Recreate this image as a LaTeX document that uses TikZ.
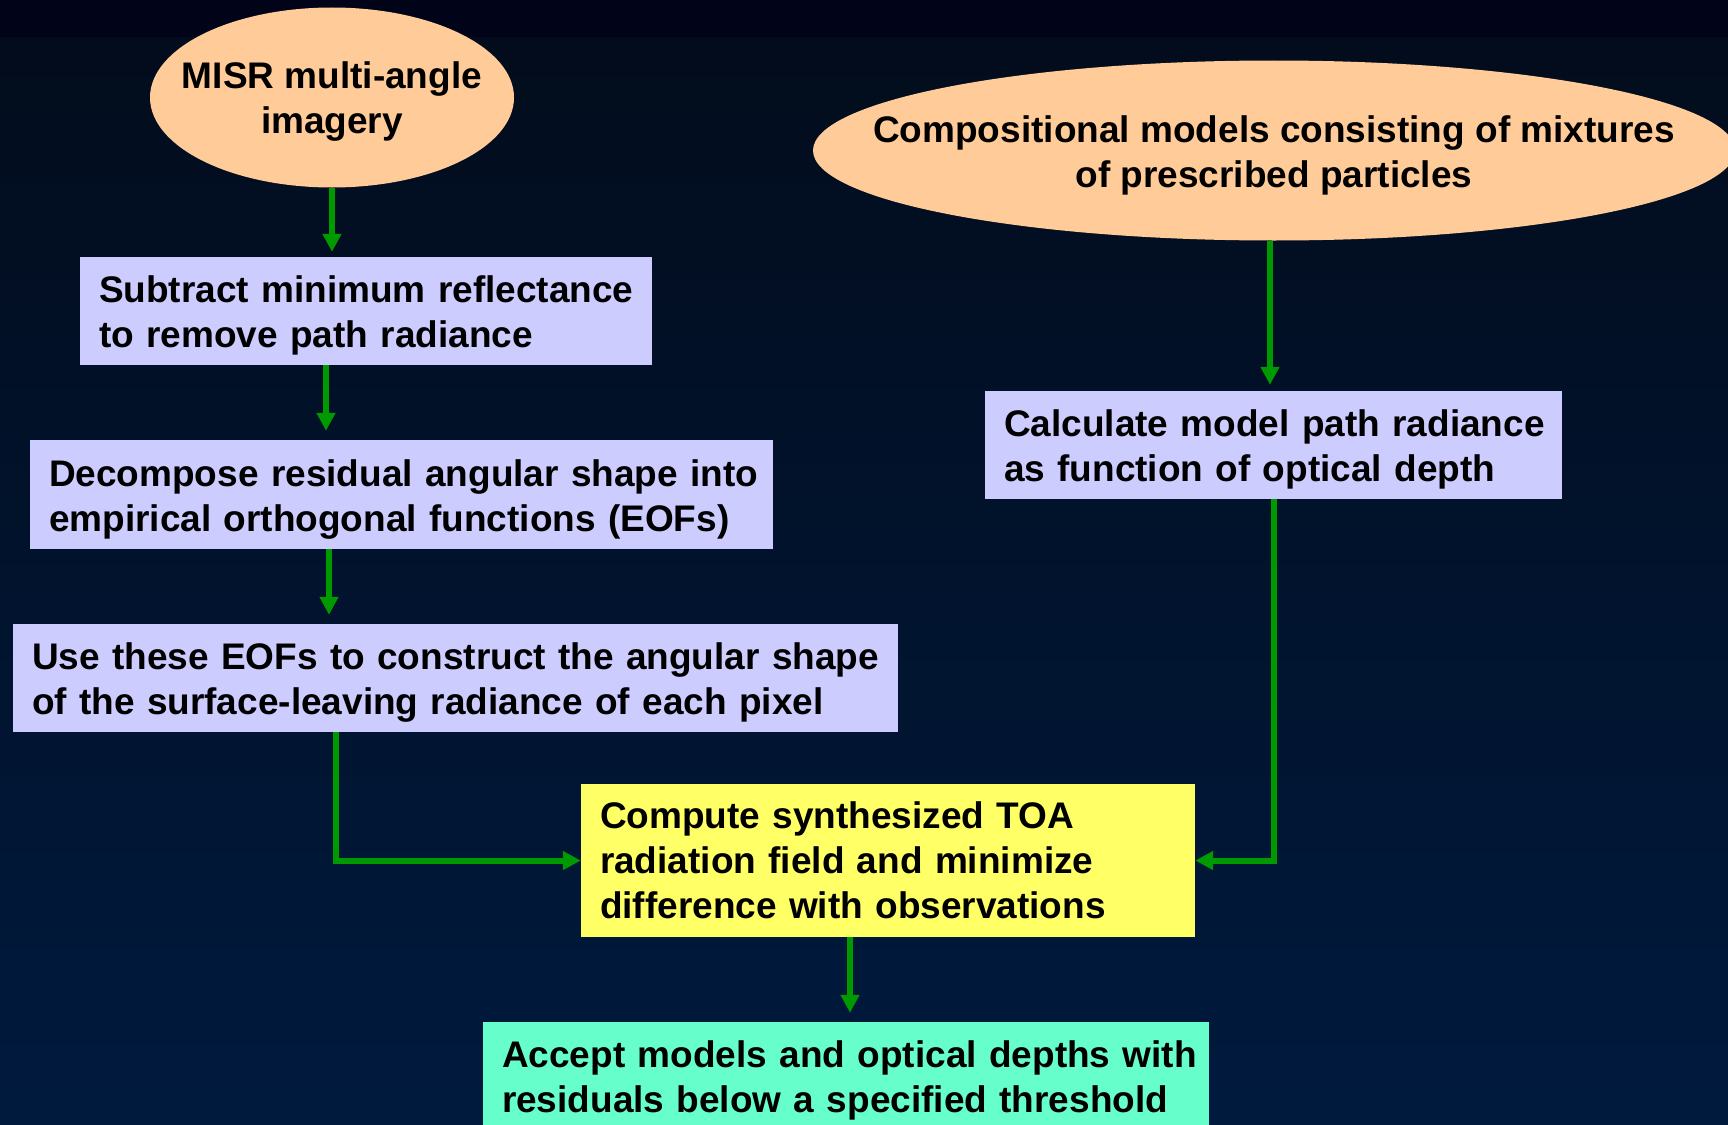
\documentclass[tikz,border=0pt]{standalone}
\usepackage{fontspec}
\setmainfont{Liberation Sans}
\usetikzlibrary{shapes.geometric,arrows.meta,calc}
\definecolor{bandcol}{RGB}{1,4,24}
\definecolor{bgtop}{RGB}{2,12,28}
\definecolor{bgbot}{RGB}{0,26,62}
\definecolor{peach}{RGB}{255,204,153}
\definecolor{lavender}{RGB}{204,204,255}
\definecolor{lemon}{RGB}{255,255,102}
\definecolor{aqua}{RGB}{102,255,204}
\definecolor{arrowgreen}{RGB}{0,153,0}
\tikzset{
  txtfont/.style={font=\fontsize{37}{45}\selectfont\bfseries, text=black},
  oval/.style={ellipse, fill=peach, draw=none, inner sep=0pt},
  ovaltext/.style={txtfont, align=center, inner sep=0pt},
  stepbox/.style={rectangle, draw=none, txtfont, inner xsep=19pt, inner ysep=0pt, align=left},
  twoline/.style={execute at begin node={\rule{0pt}{36pt}}},
  flow/.style={draw=arrowgreen, line width=6pt, -{Triangle[length=18pt,width=18pt]}},
}
\begin{document}
\begin{tikzpicture}[x=1pt,y=-1pt]
\useasboundingbox (0,0) rectangle (1728,1124);
\clip (0,0) rectangle (1728,1124);
% background
\fill[bandcol] (0,0) rectangle (1728,38);
\fill[top color=bgtop, bottom color=bgbot, draw=none] (0,38) rectangle (1728,1124);

% ellipses
\node[oval, minimum width=364pt, minimum height=180pt] (misr) at (332,97.5) {};
\node[ovaltext] (misrtext) at ([yshift=-4.5pt]misr.center) {MISR multi-angle\\imagery};
\node[oval, minimum width=922pt, minimum height=180pt] (comp) at (1274,150.5) {};
\node[ovaltext] (comptext) at ([yshift=-4.5pt]comp.center) {Compositional models consisting of mixtures\\of prescribed particles};

% boxes
\node[stepbox, twoline, fill=lavender, text width=534pt, minimum height=108pt] (sub) at (366,311)
  {\mbox{Subtract minimum reflectance}\\\mbox{to remove path radiance}};
\node[stepbox, twoline, fill=lavender, text width=705pt, minimum height=109pt] (dec) at (401.5,494.5)
  {\mbox{Decompose residual angular shape into}\\\mbox{empirical orthogonal functions (EOFs)}};
\node[stepbox, twoline, fill=lavender, text width=847pt, minimum height=108pt] (use) at (455.5,678)
  {\mbox{Use these EOFs to construct the angular shape}\\\mbox{of the surface-leaving radiance of each pixel}};
\node[stepbox, twoline, fill=lavender, text width=539pt, minimum height=108pt] (calc) at (1273.5,445)
  {\mbox{Calculate model path radiance}\\\mbox{as function of optical depth}};
\node[stepbox, fill=lemon, text width=576pt, minimum height=153pt] (toa) at (888,860.5)
  {\mbox{Compute synthesized TOA}\\\mbox{radiation field and minimize}\\\mbox{difference with observations}};
\node[stepbox, twoline, fill=aqua, text width=688pt, minimum height=107pt] (acc) at (846,1075.5)
  {\mbox{Accept models and optical depths with}\\\mbox{residuals below a specified threshold}};

% connectors
\draw[flow, shorten >=5pt] (misr.south) -- (sub.north -| misr.south);
\draw[flow, shorten >=9pt] ([xshift=-6pt]sub.south -| misr.center) -- ([xshift=-6pt]dec.north -| misr.center);
\draw[flow, shorten >=9pt] ([xshift=-3pt]dec.south -| misr.center) -- ([xshift=-3pt]use.north -| misr.center);
\draw[flow] ([xshift=4pt]use.south -| misr.center) |- (toa.west);
\draw[flow, shorten >=6pt] ([xshift=-4pt]comp.south) -- ([xshift=-4pt]calc.north -| comp.south);
\draw[flow] (calc.south -| comp.center) |- (toa.east);
\draw[flow, shorten >=9pt] ([xshift=4pt]toa.south -| acc.north) -- ([xshift=4pt]acc.north);
\end{tikzpicture}
\end{document}
